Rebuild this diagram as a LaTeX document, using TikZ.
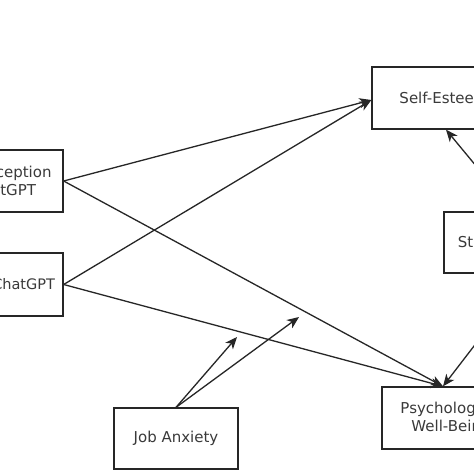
\documentclass[tikz,border=0pt]{standalone}
\usepackage{fontspec}
\setmainfont{DejaVu Sans}
\usetikzlibrary{arrows.meta,calc}
\definecolor{ink}{HTML}{262626}
\definecolor{txt}{HTML}{3A3A3A}
\begin{document}
\begin{tikzpicture}[x=1pt,y=-1pt,
  box/.style={draw=ink,line width=1.3pt,fill=white,inner sep=0pt,align=center,
    text=txt,font=\fontsize{15}{18}\selectfont},
  conn/.style={draw=ink,line width=1.3pt,-{Stealth[length=12pt,width=10pt,inset=3.5pt]}}]
\useasboundingbox (0,0) rectangle (474,474);
\fill[white] (0,0) rectangle (474,474);
\clip (0,0) rectangle (474,474);
% nodes
\node[box,minimum width=138pt,minimum height=62pt] (P1) at (-6,181) {Risk Perception\\of ChatGPT};
\node[box,minimum width=129pt,minimum height=63pt,font=\fontsize{14.5}{17}\selectfont] (P2) at (-1.5,284.5) {Use of ChatGPT};
\node[box,minimum width=144pt,minimum height=62pt] (SE) at (444,98) {Self-Esteem};
\node[box,minimum width=74pt,minimum height=61pt] (ST) at (481,242.5) {Stress};
\node[box,minimum width=138pt,minimum height=62pt] (PW) at (451,418) {Psychological\\Well-Being};
\node[box,minimum width=124pt,minimum height=61pt] (JA) at (176,438.5) {Job Anxiety};
% connectors
\coordinate (seIn) at ([yshift=-2pt]SE.west);
\coordinate (pwIn) at ([xshift=-8pt]PW.north);
\coordinate (seBot) at ([xshift=2pt]SE.south);
\coordinate (stA) at ([xshift=-5pt]ST.north east);
\coordinate (stB) at ([xshift=11pt]ST.south east);
\coordinate (m1) at (237,337);
\coordinate (m2) at (299,317);
\draw[conn] (P1.east) -- (seIn);
\draw[conn] (P2.east) -- (seIn);
\draw[conn] (P1.east) -- (pwIn);
\draw[conn] (P2.east) -- (pwIn);
\draw[conn] (stA) -- (seBot);
\draw[conn] (stB) -- (pwIn);
\draw[conn] (JA.north) -- (m1);
\draw[conn] (JA.north) -- (m2);
\end{tikzpicture}
\end{document}
